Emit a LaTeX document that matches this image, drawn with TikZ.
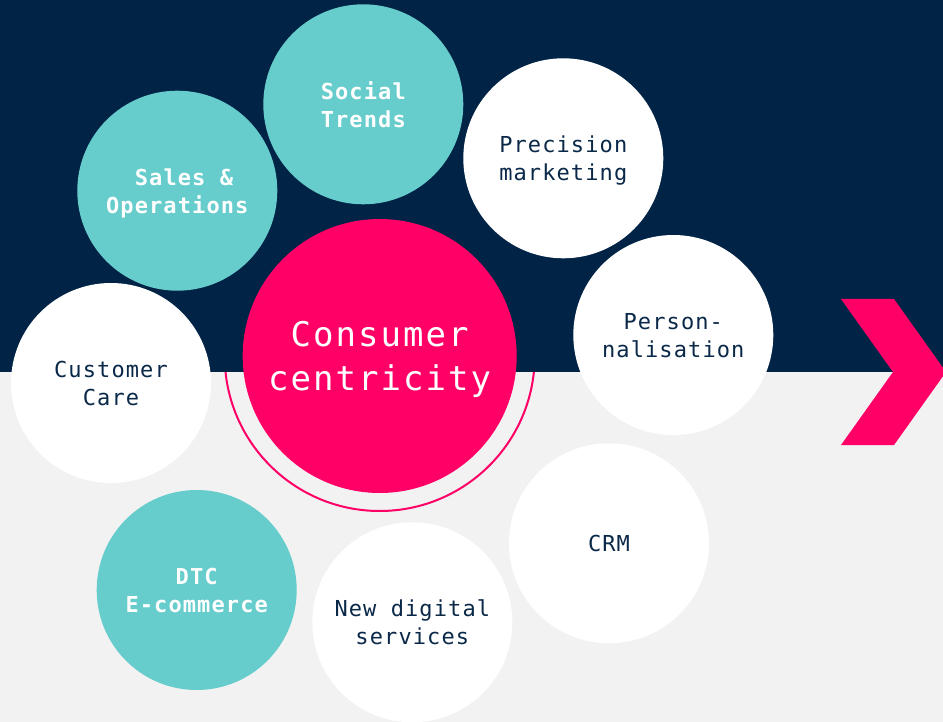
\documentclass[tikz,border=0pt]{standalone}
\usepackage{fontspec}
\newfontfamily\monotext[LetterSpace=5]{DejaVu Sans Mono}
\newfontfamily\monobig[LetterSpace=6]{DejaVu Sans Mono}
\definecolor{navy}{RGB}{0,35,70}
\definecolor{navytext}{RGB}{10,40,72}
\definecolor{teal}{RGB}{102,204,204}
\definecolor{hotpink}{RGB}{255,0,102}
\definecolor{paper}{RGB}{242,242,242}
\tikzset{
  % a fixed text depth keeps descenders from lifting the captions
  bubble/.style={circle, minimum size=200pt, inner sep=0pt, align=center, text depth=-2pt},
  plainbubble/.style={bubble, fill=white, text=navytext, font=\monotext\fontsize{22}{28}\selectfont},
  keybubble/.style={bubble, fill=teal, text=white, font=\monotext\bfseries\fontsize{22}{28}\selectfont},
  corebubble/.style={circle, minimum size=274pt, inner sep=0pt, align=center, text depth=-3pt,
    fill=hotpink, text=white, font=\monobig\fontsize{34}{44}\selectfont}
}
\begin{document}
\begin{tikzpicture}[x=1pt, y=-1pt]
  % canvas: light lower band, navy upper band
  \useasboundingbox (0,0) rectangle (943,722);
  \fill[paper] (0,0) rectangle (943,722);
  % outer ring around the core, only visible below the navy band
  \draw[hotpink, line width=2pt] (379.7,356) circle[radius=155];
  \fill[navy] (0,0) rectangle (943,372);
  % chevron on the right edge
  \fill[hotpink] (841,299) -- (894,299) -- (946,372) -- (894,445) -- (841,445) -- (893,372) -- cycle;

  % satellite topics
  \node[keybubble]   (social)   at (363.3,104.3) {Social\\Trends};
  \node[keybubble]   (sales)    at (177.3,190.7) {\hphantom{x}Sales \&\\Operations};
  \node[plainbubble] (precise)  at (563.3,158.3) {Precision\\marketing};
  \node[plainbubble] (person)   at (673.3,335)   {Person-\\nalisation};
  \node[plainbubble] (care)     at (111,383)     {Customer\\Care};
  \node[plainbubble] (crm)      at (609,543.3)   {CRM};
  \node[plainbubble] (digital)  at (412.3,622.3) {New digital\\services};
  \node[keybubble]   (dtc)      at (196.7,590)   {DTC\\E-commerce};

  % core
  \node[corebubble] (core) at (379.7,356) {Consumer\\centricity};
\end{tikzpicture}
\end{document}
